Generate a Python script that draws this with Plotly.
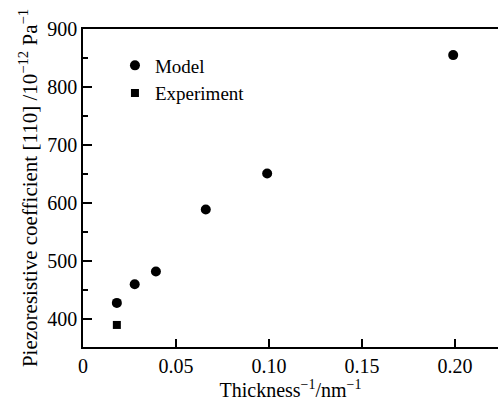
import plotly.graph_objects as go

model_x = [0.0182, 0.0278, 0.0392, 0.066, 0.0990, 0.1990]
model_y = [428, 460, 482, 589, 651, 855]
exp_x = [0.0182]
exp_y = [390]

FONT = "Liberation Serif"

fig = go.Figure()
fig.add_trace(go.Scatter(x=model_x, y=model_y, mode="markers", name="Model",
                         marker=dict(symbol="circle", size=10, color="black")))
fig.add_trace(go.Scatter(x=exp_x, y=exp_y, mode="markers", name="Experiment",
                         marker=dict(symbol="square", size=8, color="black")))

fig.update_layout(
    width=498, height=404,
    margin=dict(l=83, r=0, t=29, b=57),
    paper_bgcolor="white", plot_bgcolor="white",
    font=dict(family=FONT, size=20, color="black"),
    showlegend=True,
    legend=dict(x=0.077, y=0.945, xanchor="left", yanchor="top",
                bgcolor="rgba(0,0,0,0)", font=dict(size=19, family=FONT),
                itemwidth=30, tracegroupgap=0),
    xaxis=dict(range=[0, 0.2231], tickvals=[0, 0.05, 0.10, 0.15, 0.20],
               ticktext=["0", "0.05", "0.10", "0.15", "0.20"],
               ticks="inside", ticklen=8, tickwidth=1.5, tickcolor="black",
               tickfont=dict(size=20),
               showline=True, linecolor="black", linewidth=1.5, mirror=True,
               showgrid=False, zeroline=False,
               title=dict(text="Thickness<sup>−1</sup>/nm<sup>−1</sup>", standoff=4,
                          font=dict(size=20))),
    yaxis=dict(range=[352, 900], tickvals=[400, 500, 600, 700, 800, 900],
               ticks="inside", ticklen=9, tickwidth=1.5, tickcolor="black",
               tickfont=dict(size=20),
               minor=dict(tickvals=[350, 450, 550, 650, 750, 850], ticks="inside",
                          ticklen=5, tickwidth=1.5, tickcolor="black"),
               showline=True, linecolor="black", linewidth=1.5, mirror=False,
               showgrid=False, zeroline=False,
               title=dict(text="Piezoresistive coefficient [110] /10<sup>−12</sup> Pa<sup>−1</sup>",
                          standoff=4, font=dict(size=21))),
)

fig.write_html("out.html")
